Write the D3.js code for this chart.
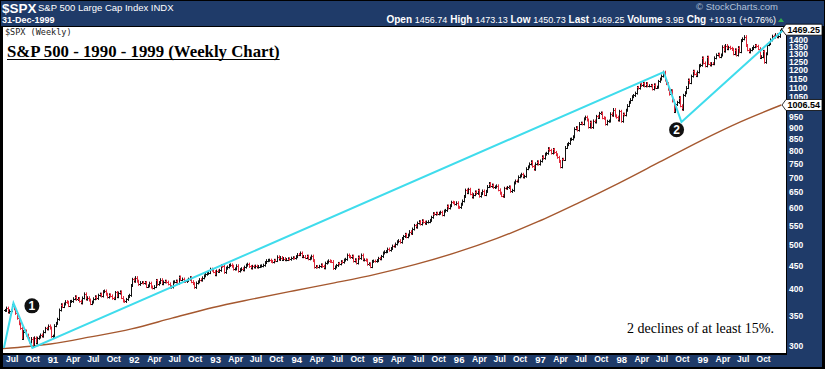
<!DOCTYPE html>
<html>
<head>
<meta charset="utf-8">
<script src="https://cdn.jsdelivr.net/npm/d3@7"></script>
<style>
body { margin: 0; background: #fff; }
svg { display: block; }
</style>
</head>
<body>
<svg id="chart"></svg>
<script>
// weekly closes (Fridays), first week ends 8-Jun-1990
let closes1990 = [358.7, 362.9, 355.4, 358.0, 358.4, 367.3, 361.6, 353.4, 344.9, 335.5,
  327.8, 311.5, 322.6, 323.4, 316.8, 311.3, 306.1, 311.5, 300.0, 312.5,
  304.7, 311.9, 313.7, 317.0, 315.1, 322.2, 327.8, 326.8, 331.8, 328.3]
let closes1991 = [314.9, 315.2, 332.2, 336.1, 343.1, 359.4, 369.1, 365.7, 370.5, 374.9,
  373.6, 367.5, 375.2, 375.4, 380.4, 384.2, 379.0, 380.8, 375.7, 372.4,
  381.9, 389.8, 379.4, 382.3, 377.8, 371.2, 374.1, 380.3, 384.2, 380.9,
  387.2, 389.3, 385.6, 394.2, 395.4, 389.1, 383.6, 387.9, 385.9, 381.3,
  380.6, 392.5, 384.2, 391.3, 393.7, 382.6, 376.1, 375.2, 379.1, 384.5,
  387.0, 406.5]
let closes1992 = [419.3, 415.1, 422.9, 415.4, 408.8, 412.5, 412.5, 411.4, 412.7, 404.4,
  405.8, 411.3, 403.5, 401.6, 404.3, 416.9, 409.0, 412.5, 418.5, 410.1,
  414.0, 415.4, 413.5, 409.8, 403.1, 403.5, 413.8, 414.2, 415.6, 411.6,
  424.2, 418.9, 419.9, 414.9, 414.8, 417.1, 419.7, 422.9, 414.4, 410.5,
  402.7, 411.7, 414.1, 418.7, 417.6, 422.4, 426.7, 430.2, 432.1, 433.7,
  441.3, 439.0]
let closes1993 = [435.7, 429.0, 437.2, 436.1, 438.8, 448.9, 447.7, 434.2, 443.4, 446.1,
  449.8, 450.9, 447.8, 441.4, 441.8, 448.9, 437.0, 440.2, 442.3, 439.6,
  445.8, 450.2, 452.5, 447.3, 443.7, 447.6, 445.8, 448.1, 445.8, 447.1,
  448.1, 448.7, 450.1, 456.2, 460.5, 461.3, 461.7, 458.8, 457.6, 461.3,
  460.7, 469.5, 463.3, 467.8, 463.1, 465.4, 462.6, 463.1, 464.9, 463.9,
  466.4, 467.4, 466.5]
let closes1994 = [469.9, 474.9, 474.7, 478.7, 469.8, 470.2, 467.7, 471.1, 464.7, 466.4,
  471.1, 460.6, 445.8, 447.1, 446.2, 447.6, 450.9, 447.8, 444.1, 454.9,
  457.3, 460.1, 458.7, 458.5, 442.8, 446.2, 449.6, 454.2, 453.1, 458.3,
  457.1, 461.9, 463.7, 473.8, 470.0, 468.2, 471.2, 459.7, 462.7, 455.1,
  469.1, 465.9, 473.8, 462.3, 462.4, 461.5, 452.3, 453.3, 446.9, 458.8,
  459.6, 459.3]
let closes1995 = [460.7, 466.0, 464.8, 470.4, 478.6, 481.5, 482.0, 488.1, 485.4, 489.6,
  495.5, 495.1, 500.7, 506.4, 509.2, 505.3, 514.7, 520.1, 525.6, 519.2,
  523.7, 532.9, 527.9, 539.8, 549.7, 544.8, 556.4, 560.3, 553.5, 562.9,
  558.9, 555.1, 559.2, 560.1, 563.8, 572.7, 583.4, 581.7, 584.4, 582.6,
  584.5, 587.5, 579.7, 590.6, 592.7, 606.0, 600.0, 607.0, 617.7, 616.3,
  612.0, 615.9]
let closes1996 = [602.0, 601.8, 611.4, 621.6, 635.8, 656.4, 648.0, 659.1, 644.4, 633.5,
  641.4, 650.6, 645.5, 655.9, 636.7, 645.1, 653.5, 641.6, 652.1, 668.3,
  678.5, 669.1, 673.3, 665.2, 666.8, 670.6, 657.4, 646.2, 638.7, 635.9,
  662.5, 662.1, 665.2, 667.0, 652.0, 655.7, 680.5, 687.0, 686.2, 701.5,
  705.0, 710.8, 700.9, 703.8, 730.8, 737.6, 748.7, 757.0, 739.6, 728.6,
  748.9, 756.8]
let closes1997 = [748.0, 759.5, 776.2, 770.5, 786.2, 789.6, 808.5, 801.8, 790.8, 805.0,
  793.2, 784.1, 773.9, 757.9, 737.7, 766.3, 765.4, 813.0, 824.8, 829.8,
  847.0, 848.3, 858.0, 893.3, 898.7, 887.3, 916.9, 918.8, 915.3, 938.8,
  947.1, 933.5, 900.8, 923.5, 899.5, 929.1, 923.9, 950.5, 945.2, 965.0,
  967.0, 944.2, 941.6, 914.6, 927.5, 928.4, 963.1, 955.4, 983.8, 953.4,
  946.8, 932.7]
let closes1998 = [975.0, 927.7, 961.5, 957.6, 980.3, 1003.5, 1020.1, 1034.2, 1049.3, 1055.7,
  1068.6, 1099.2, 1095.4, 1122.7, 1110.7, 1122.7, 1107.9, 1121.0, 1108.1, 1108.7,
  1110.5, 1090.8, 1113.9, 1098.8, 1100.7, 1133.2, 1146.4, 1164.3, 1186.8, 1140.8,
  1120.7, 1089.5, 1062.8, 1081.2, 1027.1, 973.9, 1009.1, 1020.1, 1044.8, 1002.6,
  984.6, 1056.4, 1070.7, 1098.7, 1141.0, 1125.7, 1163.6, 1192.3, 1176.7, 1166.5,
  1188.0, 1226.3]
let closes1999 = [1229.2, 1275.1, 1243.3, 1225.2, 1279.6, 1239.4, 1230.1, 1239.2, 1238.3, 1275.5,
  1294.6, 1299.3, 1282.8, 1293.7, 1348.4, 1319.0, 1356.9, 1335.2, 1345.0, 1337.8,
  1330.3, 1301.8, 1327.8, 1293.6, 1342.8, 1315.3, 1391.2, 1403.3, 1418.8, 1356.9,
  1328.7, 1313.7, 1327.7, 1336.6, 1348.3, 1357.2, 1351.7, 1335.4, 1277.4, 1282.8,
  1317.6, 1247.4, 1301.7, 1362.9, 1370.2, 1396.1, 1422.0, 1416.6, 1433.3, 1417.0,
  1421.0, 1458.3, 1469.25]

// long moving average (brown)
let maDates = ['1990-06-01', '1990-12-31', '1991-06-30', '1991-12-31', '1992-06-30', '1992-12-31',
  '1993-06-30', '1993-12-31', '1994-06-30', '1994-12-31', '1995-06-30', '1995-12-31',
  '1996-06-30', '1996-12-31', '1997-06-30', '1997-12-31', '1998-06-30', '1998-12-31',
  '1999-06-30', '1999-12-31']
let maValues = [296, 303, 314, 327, 345, 364, 380, 396, 412, 430, 452, 480,
  515, 560, 615, 680, 755, 840, 925, 1006.54]

// cyan trend lines drawn on the chart
let trendDates = ['1990-06-05', '1990-07-18', '1990-10-11', '1998-07-20', '1998-10-08', '2000-01-17']
let trendValues = [297, 372, 297, 1188, 924, 1480]

// numbered markers
let markerDates = ['1990-10-09', '1998-09-16']
let markerValues = [367, 889]
let markerLabels = ['1', '2']

let yTicks = [1400, 1350, 1300, 1250, 1200, 1150, 1100, 1050, 950, 900, 850, 800,
  750, 700, 650, 600, 550, 500, 450, 400, 350, 300]
let lastClose = 1469.25
let lastMa = 1006.54

let width = 825
let height = 369
let plot = {left: 3, right: 786, top: 27, bottom: 353}
let navy = '#1f3b69'

let parse = d3.timeParse('%Y-%m-%d')
let closes = [].concat(closes1990, closes1991, closes1992, closes1993, closes1994,
  closes1995, closes1996, closes1997, closes1998, closes1999)
let firstWeek = new Date(1990, 5, 8)
let values = closes.map((c, i) => ({
  date: d3.timeDay.offset(firstWeek, i * 7),
  close: c,
  prev: i ? closes[i - 1] : c
}))

let xScale = d3.scaleTime()
  .domain([new Date(1990, 5, 1), new Date(2000, 0, 21)])
  .range([plot.left, plot.right])
let yScale = d3.scaleLog()
  .domain([300, 1400])
  .range([346, 39.3])

let svg = d3.select('#chart')
  .attr('width', width)
  .attr('height', height)

// frame
svg.append('rect').attr('width', width).attr('height', height).attr('fill', '#000')
svg.append('rect').attr('x', 1).attr('y', 1).attr('width', 823).attr('height', 25).attr('fill', navy)
svg.append('rect').attr('x', plot.left).attr('y', plot.top)
  .attr('width', plot.right - plot.left).attr('height', plot.bottom - plot.top).attr('fill', '#fff')
svg.append('rect').attr('x', 787).attr('y', 27).attr('width', 35).attr('height', 340).attr('fill', navy)
svg.append('rect').attr('x', 3).attr('y', 355).attr('width', 819).attr('height', 12).attr('fill', navy)

svg.append('defs').append('clipPath').attr('id', 'clip')
  .append('rect').attr('x', plot.left).attr('y', plot.top)
  .attr('width', plot.right - plot.left).attr('height', plot.bottom - plot.top)

let g = svg.append('g').attr('clip-path', 'url(#clip)')

// header
let header = svg.append('g').attr('font-family', 'Liberation Sans, Arial, sans-serif').attr('fill', '#fff')
header.append('text').attr('x', 2).attr('y', 12.5).attr('font-size', 13.5).attr('font-weight', 'bold').text('$SPX')
header.append('text').attr('x', 38).attr('y', 11).attr('font-size', 9.5).text('S&P 500 Large Cap Index  INDX')
header.append('text').attr('x', 2).attr('y', 22.5).attr('font-size', 9).attr('font-weight', 'bold').text('31-Dec-1999')
header.append('text').attr('x', 778).attr('y', 10).attr('text-anchor', 'end')
  .attr('font-size', 9.5).attr('fill', '#b4c2d8').text('\u00a9 StockCharts.com')

let quote = header.append('text').attr('x', 776).attr('y', 22.5).attr('text-anchor', 'end').attr('font-size', 9)
let quoteParts = [['Open', '1456.74'], ['High', '1473.13'], ['Low', '1450.73'], ['Last', '1469.25'],
  ['Volume', '3.9B'], ['Chg', '+10.91 (+0.76%)']]
quoteParts.forEach(([k, v], i) => {
  quote.append('tspan').attr('font-weight', 'bold').attr('font-size', 10).text((i ? '  ' : '') + k + ' ')
  quote.append('tspan').text(v)
})
header.append('path').attr('d', 'M778,22 L781,18 L784,22 Z').attr('fill', '#2fa84f')

// moving average
let maLine = d3.line()
  .x((d, i) => xScale(parse(maDates[i])))
  .y(d => yScale(d))
  .curve(d3.curveMonotoneX)
g.append('path')
  .datum(maValues)
  .attr('d', maLine)
  .attr('fill', 'none')
  .attr('stroke', '#a5582f')
  .attr('stroke-width', 1.4)

// weekly bars
let bars = g.selectAll('.bar')
  .data(values)
  .enter()
  .append('g')
  .attr('class', 'bar')
  .attr('stroke', d => d.close < d.prev ? '#e0283a' : '#111')
  .attr('stroke-width', 1)
  .attr('transform', d => 'translate(' + (Math.round(xScale(d.date)) + 0.5) + ',0)')

bars.append('line')
  .attr('y1', d => yScale(Math.max(d.close, d.prev)) - 1.5)
  .attr('y2', d => yScale(Math.min(d.close, d.prev)) + 1.5)
bars.append('line')
  .attr('x1', -1.5).attr('x2', 0)
  .attr('y1', d => Math.round(yScale(d.prev)) + 0.5)
  .attr('y2', d => Math.round(yScale(d.prev)) + 0.5)
bars.append('line')
  .attr('x1', 0).attr('x2', 1.5)
  .attr('y1', d => Math.round(yScale(d.close)) + 0.5)
  .attr('y2', d => Math.round(yScale(d.close)) + 0.5)

// trend lines
let trendLine = d3.line()
  .x((d, i) => xScale(parse(trendDates[i])))
  .y(d => yScale(d))
g.append('path')
  .datum(trendValues)
  .attr('d', trendLine)
  .attr('fill', 'none')
  .attr('stroke', '#3fdcec')
  .attr('stroke-width', 2)
  .attr('stroke-linejoin', 'miter')

// markers
let markers = g.selectAll('.marker')
  .data(markerLabels)
  .enter()
  .append('g')
  .attr('transform', (d, i) => 'translate(' + xScale(parse(markerDates[i])) + ',' + yScale(markerValues[i]) + ')')
markers.append('circle').attr('r', 7.5).attr('fill', '#111')
markers.append('text')
  .attr('y', 4.5)
  .attr('text-anchor', 'middle')
  .attr('font-family', 'Liberation Sans, Arial, sans-serif')
  .attr('font-weight', 'bold')
  .attr('font-size', 12)
  .attr('fill', '#fff')
  .text(d => d)

// texts in the plot
g.append('text').attr('x', 5).attr('y', 34.5)
  .attr('font-family', 'DejaVu Sans Mono, monospace').attr('font-size', 8.5).attr('fill', '#222')
  .text('$SPX (Weekly)')

let title = svg.append('text').attr('x', 7).attr('y', 57)
  .attr('font-family', 'Liberation Serif, Times New Roman, serif')
  .attr('font-weight', 'bold').attr('font-size', 16.8).attr('fill', '#000')
  .text('S&P 500 - 1990 - 1999 (Weekly Chart)')
let titleLen = title.node().getComputedTextLength()
svg.append('line').attr('x1', 7).attr('x2', 7 + titleLen).attr('y1', 59.5).attr('y2', 59.5)
  .attr('stroke', '#000').attr('stroke-width', 1.2)

svg.append('text').attr('x', 774).attr('y', 333).attr('text-anchor', 'end')
  .attr('font-family', 'Liberation Serif, Times New Roman, serif')
  .attr('font-size', 14).attr('fill', '#000')
  .text('2 declines of at least 15%.')

// right axis
let yAxis = d3.axisRight(yScale)
  .tickValues(yTicks)
  .tickFormat(d3.format('d'))
  .tickSize(0)
  .tickPadding(2)
let yAxisG = svg.append('g')
  .attr('transform', 'translate(787,0)')
  .call(yAxis)
yAxisG.select('.domain').remove()
yAxisG.selectAll('text')
  .attr('fill', '#fff')
  .attr('font-family', 'Liberation Sans, Arial, sans-serif')
  .attr('font-weight', 'bold')
  .attr('font-size', 8.5)

// value flags on the axis
let flags = svg.selectAll('.flag')
  .data([lastClose, lastMa])
  .enter()
  .append('g')
  .attr('transform', d => 'translate(786,' + yScale(d) + ')')
flags.append('path')
  .attr('d', 'M-4,0 L0,-5.5 L36,-5.5 L36,5.5 L0,5.5 Z')
  .attr('fill', '#fff')
  .attr('stroke', '#000')
  .attr('stroke-width', 0.8)
flags.append('text')
  .attr('x', 1.5).attr('y', 3.3)
  .attr('font-family', 'Liberation Sans, Arial, sans-serif')
  .attr('font-weight', 'bold')
  .attr('font-size', 9)
  .attr('fill', '#000')
  .text(d => d3.format('.2f')(d))

// bottom axis
let fmtYear = d3.timeFormat('%y')
let fmtMonth = d3.timeFormat('%b')
let xAxis = d3.axisBottom(xScale)
  .tickValues(d3.timeMonth.range(new Date(1990, 6, 1), new Date(2000, 0, 1), 3))
  .tickFormat(d => d.getMonth() === 0 ? fmtYear(d) : fmtMonth(d))
  .tickSize(0)
  .tickPadding(0)
let xAxisG = svg.append('g')
  .attr('transform', 'translate(2,356)')
  .call(xAxis)
xAxisG.select('.domain').remove()
xAxisG.selectAll('text')
  .attr('fill', '#fff')
  .attr('font-family', 'Liberation Sans, Arial, sans-serif')
  .attr('font-weight', 'bold')
  .attr('font-size', d => d.getMonth() === 0 ? 9.5 : 8.5)
</script>
</body>
</html>
